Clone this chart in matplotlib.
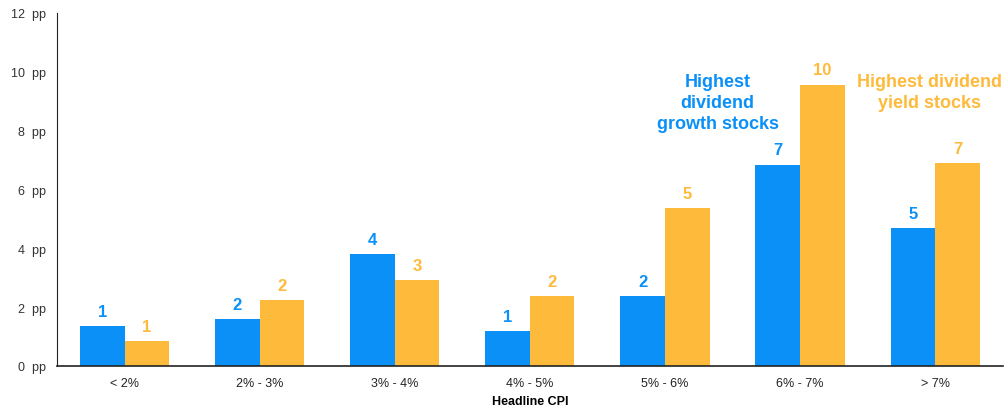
import numpy as np
import matplotlib
matplotlib.use("Agg")
import matplotlib.pyplot as plt

plt.rcParams['font.family'] = ['Liberation Sans', 'DejaVu Sans']

categories = ['< 2%', '2% - 3%', '3% - 4%', '4% - 5%', '5% - 6%', '6% - 7%', '> 7%']
growth = [1.36, 1.6, 3.81, 1.19, 2.38, 6.84, 4.69]
yield_ = [0.85, 2.24, 2.92, 2.38, 5.37, 9.56, 6.9]
growth_lbl = ['1', '2', '4', '1', '2', '7', '5']
yield_lbl = ['1', '2', '3', '2', '5', '10', '7']

blue = '#0A90F7'
orange = '#FDBA3B'

fig = plt.figure(figsize=(10.06, 4.10), dpi=100)
ax = fig.add_axes([0.0567, 0.105, 0.94, 0.861])

x = np.arange(len(categories))
w = 0.33
ax.bar(x - w/2, growth, w, color=blue)
ax.bar(x + w/2, yield_, w, color=orange)

for xi, v, s in zip(x, growth, growth_lbl):
    ax.text(xi - w/2, v + 0.25, s, ha='center', va='bottom', color=blue,
            fontsize=12, fontweight='bold')
for xi, v, s in zip(x, yield_, yield_lbl):
    ax.text(xi + w/2, v + 0.25, s, ha='center', va='bottom', color=orange,
            fontsize=12, fontweight='bold')

ax.text(4.39, 8.95, "Highest\ndividend\ngrowth stocks", ha='center', va='center',
        color=blue, fontsize=13, fontweight='bold', linespacing=1.3)
ax.text(5.96, 9.3, "Highest dividend\nyield stocks", ha='center', va='center',
        color=orange, fontsize=13, fontweight='bold', linespacing=1.3)

ax.set_xlim(-0.5, 6.5)
ax.set_ylim(0, 12)
ax.set_yticks(np.arange(0, 13, 2))
ax.set_yticklabels([f'{t}  pp' for t in range(0, 13, 2)], fontsize=9, color='#333333')
ax.set_xticks(x)
ax.set_xticklabels(categories, fontsize=9, color='#222222')
ax.tick_params(length=0, pad=8)
ax.set_xlabel('Headline CPI', fontsize=9, fontweight='bold', labelpad=4)

for side in ['top', 'right']:
    ax.spines[side].set_visible(False)
ax.spines['left'].set_color('#222222')
ax.spines['bottom'].set_color('#222222')
ax.spines['bottom'].set_linewidth(1.2)

fig.savefig('out.png', dpi=100)
